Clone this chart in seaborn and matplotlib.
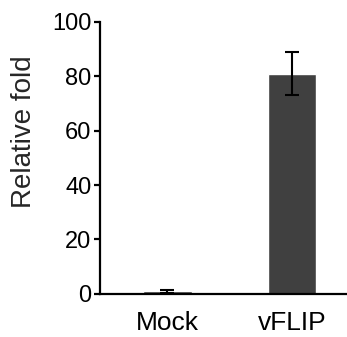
import seaborn as sns
import pandas as pd
import numpy as np
import matplotlib.pyplot as plt

groups = ["Mock", "vFLIP"]
fold = [1.0, 81.0]
err = [0.5, 8.0]

sns.set_style("ticks")
plt.rcParams['font.family'] = ['Liberation Sans', 'DejaVu Sans']

df = pd.DataFrame({"group": groups, "fold": fold})

fig = plt.figure(figsize=(3.47, 3.37), dpi=100)
ax = fig.add_axes([0.288, 0.128, 0.712, 0.807])
sns.barplot(data=df, x="group", y="fold", color="#404040", saturation=1,
            width=0.39, errorbar=None, ax=ax)
ax.errorbar(range(len(groups)), fold, yerr=err, fmt="none", ecolor="black",
            elinewidth=1.5, capsize=5, capthick=1.5)

ax.set_ylim(0, 100)
ax.set_xlim(-0.54, 1.44)
ax.set_yticks([0, 20, 40, 60, 80, 100])
ax.set_xlabel("")
ax.set_ylabel("Relative fold", fontsize=20)
ax.yaxis.set_label_coords(-0.255, 0.595)
sns.despine(ax=ax)
for s in ["left", "bottom"]:
    ax.spines[s].set_linewidth(1.6)
    ax.spines[s].set_color("black")
ax.tick_params(axis="y", labelsize=17, length=4, width=1.6, pad=2, colors="black")
ax.tick_params(axis="x", labelsize=19, length=0, pad=12, colors="black")

fig.savefig("out.png", dpi=100)
